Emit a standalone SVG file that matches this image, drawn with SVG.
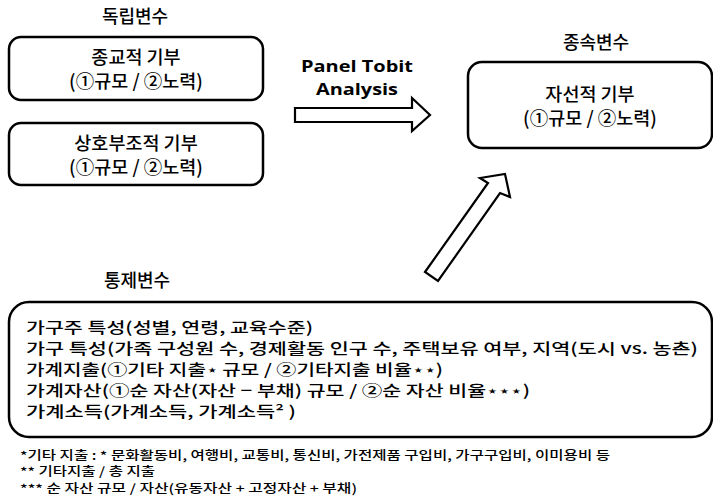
<svg xmlns="http://www.w3.org/2000/svg" width="713" height="497" viewBox="0 0 713 497">
<style>
text{font-family:"Noto Sans CJK KR","Liberation Sans",sans-serif;fill:#000;font-weight:500}
.box{fill:#fff;stroke:#000;stroke-width:2.5}
.t{font-size:18.5px;text-anchor:middle}
.h{font-size:18px;text-anchor:middle}
.c{font-size:15.2px}
.f{font-size:12px}
.b{font-family:"Open Sans","Liberation Sans",sans-serif;font-weight:bold;font-size:16.5px;text-anchor:middle}
.arr{fill:#fff;stroke:#000;stroke-width:2.2;stroke-linejoin:miter}
</style>
<rect width="713" height="497" fill="#fff"/>
<g id="hdr-indep"><text class="h" x="135" y="23">독립변수</text></g>
<g id="hdr-dep"><text class="h" x="596" y="49">종속변수</text></g>
<g id="hdr-ctrl"><text class="h" x="137" y="287">통제변수</text></g>
<g id="node-religious">
<rect class="box" x="9" y="37" width="254" height="63" rx="12"/>
<text class="t" x="136" y="64">종교적 기부</text>
<text class="t" x="136" y="88">(①규모 / ②노력)</text>
</g>
<g id="node-mutual">
<rect class="box" x="9" y="123" width="254" height="62" rx="12"/>
<text class="t" x="136" y="150">상호부조적 기부</text>
<text class="t" x="136" y="174">(①규모 / ②노력)</text>
</g>
<g id="node-charity">
<rect class="box" x="468" y="62" width="244" height="86" rx="14"/>
<text class="t" x="590" y="101">자선적 기부</text>
<text class="t" x="590" y="125">(①규모 / ②노력)</text>
</g>
<g id="node-controls">
<rect class="box" x="9" y="302" width="703" height="135" rx="20"/>
<text class="c" x="26" y="333" textLength="287" lengthAdjust="spacingAndGlyphs">가구주 특성(성별, 연령, 교육수준)</text>
<text class="c" x="26" y="354" textLength="672" lengthAdjust="spacingAndGlyphs">가구 특성(가족 구성원 수, 경제활동 인구 수, 주택보유 여부, 지역(도시 vs. 농촌)</text>
<text class="c" x="26" y="375" textLength="417" lengthAdjust="spacingAndGlyphs">가계지출(①기타 지출⋆ 규모 / ②기타지출 비율⋆⋆)</text>
<text class="c" x="26" y="396" textLength="504" lengthAdjust="spacingAndGlyphs">가계자산(①순 자산(자산 − 부채) 규모 / ②순 자산 비율⋆⋆⋆)</text>
<text class="c" x="26" y="417" textLength="270" lengthAdjust="spacingAndGlyphs">가계소득(가계소득, 가계소득² )</text>
</g>
<g id="notes">
<text class="f" x="20" y="460" textLength="590" lengthAdjust="spacingAndGlyphs">*기타 지출 : * 문화활동비, 여행비, 교통비, 통신비, 가전제품 구입비, 가구구입비, 이미용비 등</text>
<text class="f" x="20" y="476" textLength="135" lengthAdjust="spacingAndGlyphs">** 기타지출 / 총 지출</text>
<text class="f" x="20" y="493" textLength="337" lengthAdjust="spacingAndGlyphs">*** 순 자산 규모 / 자산(유동자산 + 고정자산 + 부채)</text>
</g>
<g id="label-method">
<text class="b" x="357" y="72" textLength="112" lengthAdjust="spacingAndGlyphs">Panel Tobit</text>
<text class="b" x="357" y="95" textLength="82" lengthAdjust="spacingAndGlyphs">Analysis</text>
</g>
<g id="connectors">
<polygon class="arr" points="295,108 412,108 412,98 430,115 412,131 412,122 295,122"/>
<polygon class="arr" points="425,272 488,183 480,178 505,174 510,197 500,193 438,281"/>
</g>
</svg>
